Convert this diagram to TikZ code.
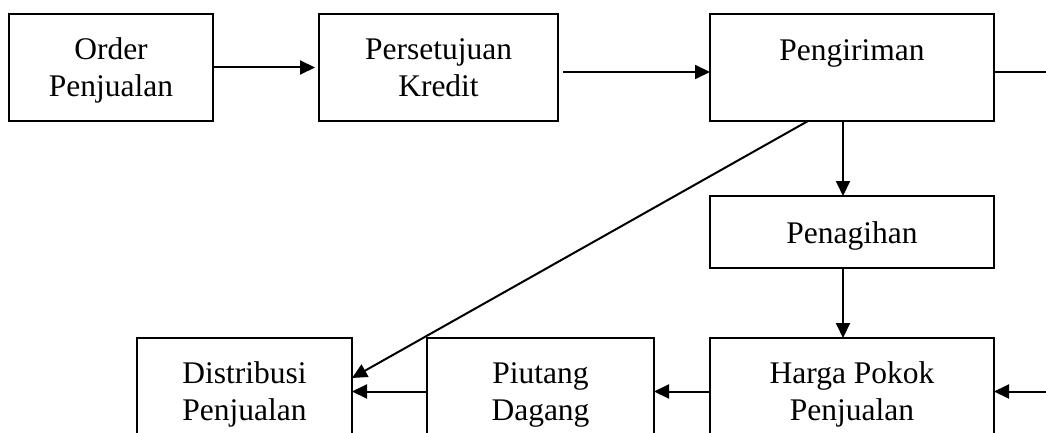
\documentclass[tikz,border=0pt]{standalone}
\usepackage{fontspec}
\setmainfont{Liberation Serif}
\usetikzlibrary{arrows.meta}
\begin{document}
\begin{tikzpicture}[x=1pt,y=-1pt,
  box/.style={draw,line width=1.5pt,rectangle,inner sep=0pt,outer sep=0pt,minimum width=#1,minimum height=107pt},
  txt/.style={font=\fontsize{31.5}{37}\selectfont,align=center,anchor=base,inner sep=0pt},
  arr/.style={-{Triangle[length=15pt,width=14pt]},line width=2pt},
  ln/.style={line width=2pt}]
\path[use as bounding box] (0,0) rectangle (1046,433);
\clip (0,0) rectangle (1046,433);
% boxes
\node[box=204pt] (order) at (111,67.5) {};
\node[box=239pt] (kredit) at (438.5,67.5) {};
\node[box=284pt] (kirim) at (852,67.5) {};
\node[box=284pt,minimum height=72pt] (tagih) at (852,232) {};
\node[box=284pt] (hpp) at (852,391.5) {};
\node[box=227pt] (piut) at (540.5,391.5) {};
\node[box=215pt] (dist) at (244.5,391.5) {};
% texts
\node[txt] (torder) at (111,97) {Order\\Penjualan};
\node[txt] (tkredit) at (438.5,97) {Persetujuan\\Kredit};
\node[txt] (tkirim) at (852,61) {Pengiriman};
\node[txt] (ttagih) at (852,243) {Penagihan};
\node[txt] (thpp) at (852,420) {Harga Pokok\\Penjualan};
\node[txt] (tpiut) at (540.5,420) {Piutang\\Dagang};
\node[txt] (tdist) at (244.5,420) {Distribusi\\Penjualan};
% connectors
\coordinate (eR) at (1046,72);
\coordinate (eR2) at (1046,391.5);
\draw[arr,shorten >=4pt] (order.east) -- (kredit.west);
\draw[arr] ([xshift=5pt,yshift=-4.5pt]kredit.east) -- ([yshift=-4.5pt]kirim.west);
\draw[ln] ([yshift=-4.5pt]kirim.east) -- (eR);
\draw[arr] ([xshift=-9pt]kirim.south) -- ([xshift=-9pt]tagih.north);
\draw[arr] ([xshift=-9pt]tagih.south) -- ([xshift=-9pt]hpp.north);
\draw[arr] ([xshift=-44pt]kirim.south) -- ([yshift=13.5pt]dist.east);
\draw[arr] (piut.west) -- (dist.east);
\draw[arr] (hpp.west) -- (piut.east);
\draw[arr] (eR2) -- (hpp.east);
\end{tikzpicture}
\end{document}
